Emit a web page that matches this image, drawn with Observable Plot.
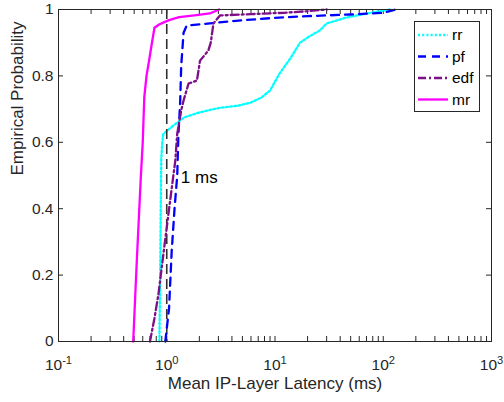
<!DOCTYPE html>
<html><head><meta charset="utf-8">
<script src="https://cdn.jsdelivr.net/npm/d3@7"></script>
<script src="https://cdn.jsdelivr.net/npm/@observablehq/plot@0.6"></script>
<style>
body{margin:0;background:#fff;}
#wrap{position:relative;width:504px;height:402px;font-family:"Liberation Sans",Arial,sans-serif;}
#legend{position:absolute;left:414px;top:21px;}
</style></head><body><div id="wrap"></div>
<script>
// ---- data ----
const seriesNames = ["rr", "pf", "edf", "mr"];

const rrX = [0.855, 0.87, 0.88, 0.89, 0.91, 0.93, 1.05, 1.2, 1.45, 2, 3, 4.5, 6, 7.5, 9, 11, 14, 17, 21, 26, 30, 46, 71, 115];
const rrP = [0, 0.2, 0.4, 0.55, 0.6, 0.625, 0.64, 0.655, 0.675, 0.69, 0.703, 0.71, 0.72, 0.735, 0.756, 0.807, 0.855, 0.9, 0.92, 0.937, 0.958, 0.976, 0.988, 1];

const pfX = [0.97, 1.05, 1.11, 1.18, 1.25, 1.28, 1.33, 1.36, 1.43, 1.53, 2.5, 4, 10, 20, 50, 100, 130];
const pfP = [0, 0.1, 0.27, 0.4, 0.5, 0.62, 0.72, 0.83, 0.93, 0.952, 0.958, 0.965, 0.975, 0.98, 0.985, 0.99, 1];

const edfX = [0.70, 0.77, 0.84, 0.92, 1.0, 1.1, 1.2, 1.25, 1.36, 1.43, 1.59, 1.9, 2.03, 2.42, 2.55, 2.7, 3.1, 6, 12, 20, 30];
const edfP = [0, 0.07, 0.145, 0.25, 0.344, 0.45, 0.545, 0.626, 0.696, 0.726, 0.777, 0.786, 0.846, 0.876, 0.9, 0.958, 0.982, 0.986, 0.99, 0.995, 1];

const mrX = [0.49, 0.53, 0.575, 0.6, 0.62, 0.65, 0.69, 0.73, 0.77, 0.85, 0.95, 1.05, 1.3, 1.8, 2.5, 3.05];
const mrP = [0, 0.25, 0.49, 0.6, 0.735, 0.8, 0.85, 0.9, 0.945, 0.955, 0.962, 0.968, 0.977, 0.982, 0.988, 1];

const xTickValues = [0.1, 1, 10, 100, 1000];
const xTickExponents = ["-1", "0", "1", "2", "3"];
const xMinorTicks = [0.2,0.3,0.4,0.5,0.6,0.7,0.8,0.9, 2,3,4,5,6,7,8,9, 20,30,40,50,60,70,80,90, 200,300,400,500,600,700,800,900];
const yTickValues = [0, 0.2, 0.4, 0.6, 0.8, 1];
const refLineX = [1];
const annotationText = ["1 ms"];
const annotationX = [1.35];
const annotationY = [0.5];
const xLabel = "Mean IP-Layer Latency (ms)";
const yLabel = "Empirical Probability";

// ---- styles ----
const styles = {
  rr:  {stroke: "#00ffff", dash: "2,2.2"},
  pf:  {stroke: "#0000ff", dash: "8,6"},
  edf: {stroke: "#7e0f86", dash: "8,3,2,3"},
  mr:  {stroke: "#ff00ff", dash: null}
};
const axisColor = "#262626";
const lineWidth = 2.3;

const series = {rr: [rrX, rrP], pf: [pfX, pfP], edf: [edfX, edfP], mr: [mrX, mrP]};
const rows = seriesNames.flatMap(name => series[name][0].map((x, i) => ({name, x, p: series[name][1][i]})));

const W = 504, H = 402, mL = 58, mR = 13, mT = 9, mB = 61;
const fw = W - mL - mR, fh = H - mT - mB, tl = 5;

const chart = Plot.plot({
  width: W, height: H,
  marginLeft: mL, marginRight: mR, marginTop: mT, marginBottom: mB,
  style: {fontFamily: '"Liberation Sans", Arial, sans-serif', color: axisColor, background: "#fff"},
  x: {type: "log", domain: [0.1, 1000]},
  y: {domain: [0, 1]},
  marks: [
    // ticks inside the box, all four sides
    Plot.tickX(xTickValues.concat(xMinorTicks), {x: d => d, insetTop: fh - tl, stroke: axisColor}),
    Plot.tickX(xTickValues.concat(xMinorTicks), {x: d => d, insetBottom: fh - tl, stroke: axisColor}),
    Plot.tickY(yTickValues, {y: d => d, insetRight: fw - tl, stroke: axisColor}),
    Plot.tickY(yTickValues, {y: d => d, insetLeft: fw - tl, stroke: axisColor}),
    Plot.axisX(xTickValues, {tickSize: 0, tickPadding: 17, fontSize: 15.5, label: null,
      tickFormat: d => "10^" + xTickExponents[xTickValues.indexOf(d)]}),
    Plot.axisY(yTickValues, {tickSize: 0, tickPadding: 5, fontSize: 15.5, label: null,
      tickFormat: d => String(d)}),
    ...seriesNames.slice(0, 1).map(name => Plot.line(rows.filter(r => r.name === name),
      {x: "x", y: "p", stroke: styles[name].stroke, strokeWidth: lineWidth, strokeDasharray: styles[name].dash})),
    Plot.ruleX(refLineX, {x: d => d, stroke: "#303030", strokeWidth: 1.6, strokeDasharray: "10,5"}),
    ...seriesNames.slice(1).map(name => Plot.line(rows.filter(r => r.name === name),
      {x: "x", y: "p", stroke: styles[name].stroke, strokeWidth: lineWidth, strokeDasharray: styles[name].dash})),
    Plot.text(annotationText, {x: (d, i) => annotationX[i], y: (d, i) => annotationY[i], text: d => d,
      textAnchor: "start", dy: 2, fontSize: 17, fill: "#000"}),
    Plot.text([xLabel], {frameAnchor: "bottom", dy: 47, text: d => d, fontSize: 17, fill: axisColor}),
    Plot.text([yLabel], {frameAnchor: "left", dx: -41, rotate: -90, text: d => d, fontSize: 17, fill: axisColor}),
    Plot.frame({stroke: axisColor, strokeWidth: 1})
  ]
});

// superscript exponents on the log-axis labels
d3.select(chart).selectAll('g[aria-label="x-axis tick label"] text').each(function () {
  const t = d3.select(this);
  const [base, exp] = t.text().split("^");
  t.text(null);
  t.append("tspan").text(base);
  t.append("tspan").attr("dy", "-0.45em").attr("font-size", "0.72em").text(exp);
});

const wrap = document.getElementById("wrap");
wrap.appendChild(chart);

// legend
const lg = d3.select(wrap).append("svg").attr("id", "legend").attr("width", 66).attr("height", 91);
lg.append("rect").attr("x", 0.5).attr("y", 0.5).attr("width", 65).attr("height", 90)
  .attr("fill", "#fff").attr("stroke", axisColor).attr("stroke-width", 1);
seriesNames.forEach((name, i) => {
  const y = 14 + i * 21.5;
  lg.append("line").attr("x1", 4).attr("x2", 34).attr("y1", y).attr("y2", y)
    .attr("stroke", styles[name].stroke).attr("stroke-width", lineWidth)
    .attr("stroke-dasharray", styles[name].dash);
  lg.append("text").attr("x", 38).attr("y", y).attr("dy", "0.35em")
    .attr("font-size", 15.5).attr("fill", "#000")
    .attr("font-family", '"Liberation Sans", Arial, sans-serif').text(name);
});
</script></body></html>
